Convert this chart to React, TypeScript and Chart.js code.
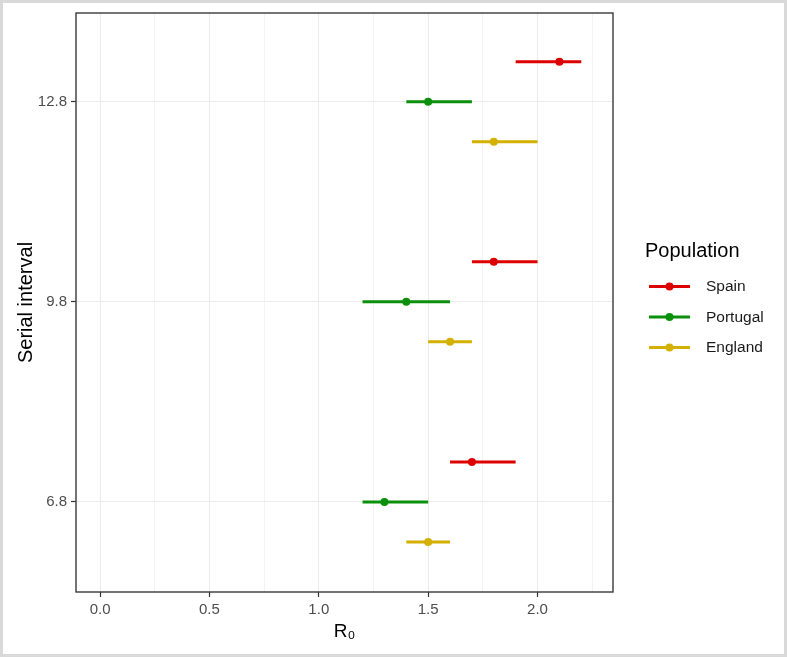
import React, { useEffect, useRef } from 'react';
import { Chart, registerables } from 'chart.js';

Chart.register(...registerables);

// ---- data ----
const serialIntervals = [12.8, 9.8, 6.8];
const populations = ['Spain', 'Portugal', 'England'];
const populationColors = ['#DC0000', '#0A900A', '#D4B000'];

const spainR0 = [2.1, 1.8, 1.7];
const spainLow = [1.9, 1.7, 1.6];
const spainHigh = [2.2, 2.0, 1.9];

const portugalR0 = [1.5, 1.4, 1.3];
const portugalLow = [1.4, 1.2, 1.2];
const portugalHigh = [1.7, 1.6, 1.5];

const englandR0 = [1.8, 1.6, 1.5];
const englandLow = [1.7, 1.5, 1.4];
const englandHigh = [2.0, 1.7, 1.6];

const xMajorTicks = [0, 0.5, 1.0, 1.5, 2.0];
const xMinorTicks = [0.25, 0.75, 1.25, 1.75, 2.25];
const yTickValues = [6.8, 9.8, 12.8];

const xTitle = 'R\u2080';
const yTitle = 'Serial interval';
const legendTitle = 'Population';

// ---- helpers ----
const FONT = '"Liberation Sans", Arial, Helvetica, sans-serif';
const DODGE = [0.6, 0, -0.6];

const seriesR0 = [spainR0, portugalR0, englandR0];
const seriesLow = [spainLow, portugalLow, englandLow];
const seriesHigh = [spainHigh, portugalHigh, englandHigh];

const isMajorX = (v: number) => xMajorTicks.some((m) => Math.abs(m - v) < 1e-6);

const panelBorder = {
  id: 'panelBorder',
  afterDatasetsDraw(chart: any) {
    const { ctx, chartArea } = chart;
    ctx.save();
    ctx.strokeStyle = '#3a3a3a';
    ctx.lineWidth = 1.4;
    ctx.strokeRect(chartArea.left, chartArea.top, chartArea.right - chartArea.left, chartArea.bottom - chartArea.top);
    ctx.restore();
  },
};

const customLegend = {
  id: 'customLegend',
  afterDraw(chart: any) {
    const { ctx } = chart;
    const items = chart.data.datasets.filter((d: any) => d.legendEntry);
    ctx.save();
    ctx.fillStyle = '#000000';
    ctx.font = `20px ${FONT}`;
    ctx.textBaseline = 'middle';
    ctx.textAlign = 'left';
    ctx.fillText(legendTitle, 645, 251);
    items.forEach((d: any, i: number) => {
      const y = 286.5 + i * 30.5;
      ctx.strokeStyle = d.backgroundColor;
      ctx.lineWidth = 3;
      ctx.beginPath();
      ctx.moveTo(649, y);
      ctx.lineTo(690, y);
      ctx.stroke();
      ctx.fillStyle = d.backgroundColor;
      ctx.beginPath();
      ctx.arc(669.5, y, 4, 0, Math.PI * 2);
      ctx.fill();
      ctx.fillStyle = '#1a1a1a';
      ctx.font = `15.5px ${FONT}`;
      ctx.fillText(d.label, 706, y + 0.5);
    });
    ctx.restore();
  },
};

export default function App() {
  const canvasRef = useRef<HTMLCanvasElement | null>(null);

  useEffect(() => {
    if (!canvasRef.current) return;

    const datasets: any[] = [];
    populations.forEach((name, p) => {
      datasets.push({
        type: 'scatter',
        label: name,
        legendEntry: true,
        data: serialIntervals.map((si, i) => ({ x: seriesR0[p][i], y: si + DODGE[p] })),
        backgroundColor: populationColors[p],
        borderColor: populationColors[p],
        pointRadius: 4,
        pointBorderWidth: 0,
        showLine: false,
        order: 0,
      });
    });
    populations.forEach((name, p) => {
      const pts: any[] = [];
      serialIntervals.forEach((si, i) => {
        pts.push({ x: seriesLow[p][i], y: si + DODGE[p] });
        pts.push({ x: seriesHigh[p][i], y: si + DODGE[p] });
        pts.push({ x: seriesHigh[p][i], y: null });
      });
      datasets.push({
        type: 'line',
        label: name + ' interval',
        data: pts,
        borderColor: populationColors[p],
        backgroundColor: populationColors[p],
        borderWidth: 3,
        pointRadius: 0,
        spanGaps: false,
        fill: false,
        order: 1,
      });
    });

    const chart = new Chart(canvasRef.current, {
      type: 'scatter',
      data: { datasets },
      options: {
        animation: false,
        responsive: false,
        maintainAspectRatio: false,
        layout: { padding: { top: 12, right: 174, bottom: 0, left: 0 } },
        plugins: {
          legend: { display: false },
          tooltip: { enabled: false },
        },
        scales: {
          x: {
            type: 'linear',
            min: -0.11,
            max: 2.345,
            afterBuildTicks: (scale: any) => {
              scale.ticks = [...xMajorTicks, ...xMinorTicks].sort((a, b) => a - b).map((v) => ({ value: v }));
            },
            afterFit: (scale: any) => {
              scale.height = 65;
            },
            ticks: {
              autoSkip: false,
              maxRotation: 0,
              padding: 4,
              color: '#4d4d4d',
              font: { family: FONT, size: 15 },
              callback: (v: any) => (isMajorX(Number(v)) ? Number(v).toFixed(1) : ''),
            },
            grid: {
              color: (ctx: any) => (ctx.tick && isMajorX(ctx.tick.value) ? '#ebebeb' : '#f3f3f3'),
              lineWidth: 1,
              tickLength: 5,
              tickColor: (ctx: any) => (ctx.tick && isMajorX(ctx.tick.value) ? '#333333' : 'rgba(0,0,0,0)'),
              tickWidth: 1.2,
            },
            border: { display: false },
            title: {
              display: true,
              text: xTitle,
              color: '#000000',
              font: { family: FONT, size: 19 },
              padding: { top: 0, bottom: 14 },
            },
          },
          y: {
            type: 'linear',
            min: 5.45,
            max: 14.13,
            afterBuildTicks: (scale: any) => {
              scale.ticks = yTickValues.map((v) => ({ value: v }));
            },
            afterFit: (scale: any) => {
              scale.width = 76;
            },
            ticks: {
              autoSkip: false,
              padding: 4,
              color: '#4d4d4d',
              font: { family: FONT, size: 15 },
              callback: (v: any) => Number(v).toFixed(1),
            },
            grid: {
              color: '#ebebeb',
              lineWidth: 1,
              tickLength: 5,
              tickColor: '#333333',
              tickWidth: 1.2,
            },
            border: { display: false },
            title: {
              display: true,
              text: yTitle,
              color: '#000000',
              font: { family: FONT, size: 20 },
              padding: { top: 14, bottom: 0 },
            },
          },
        },
      },
      plugins: [panelBorder, customLegend],
    } as any);

    return () => chart.destroy();
  }, []);

  return (
    <div style={{ position: 'fixed', left: 0, top: 0, width: 787, height: 657, background: '#ffffff' }}>
      <canvas ref={canvasRef} width={787} height={657} style={{ display: 'block', width: 787, height: 657 }} />
      <div
        style={{
          position: 'absolute',
          left: 0,
          top: 0,
          width: 787,
          height: 657,
          boxSizing: 'border-box',
          border: '3px solid #d9d9d9',
          pointerEvents: 'none',
        }}
      />
    </div>
  );
}
